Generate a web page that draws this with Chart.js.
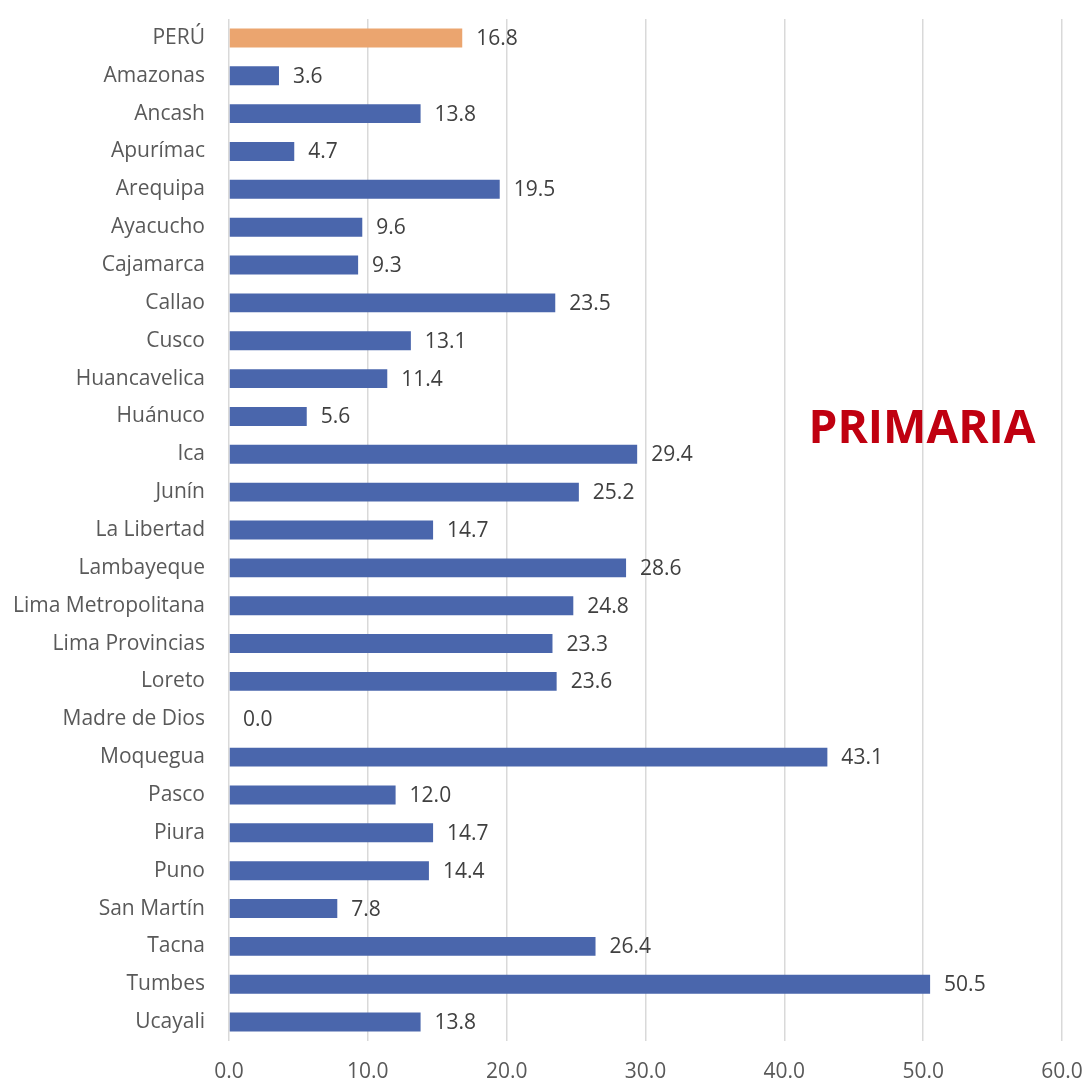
<!DOCTYPE html>
<html>
<head>
<meta charset="utf-8">
<script src="https://cdn.jsdelivr.net/npm/chart.js@4/dist/chart.umd.min.js"></script>
<style>
  html, body { margin: 0; padding: 0; background: #fff; }
  #wrap { width: 1086px; height: 1084px; }
</style>
</head>
<body>
<div id="wrap"><canvas id="grafico"></canvas></div>
<script>
const regiones = ['PERÚ', 'Amazonas', 'Ancash', 'Apurímac', 'Arequipa', 'Ayacucho', 'Cajamarca',
  'Callao', 'Cusco', 'Huancavelica', 'Huánuco', 'Ica', 'Junín', 'La Libertad', 'Lambayeque',
  'Lima Metropolitana', 'Lima Provincias', 'Loreto', 'Madre de Dios', 'Moquegua', 'Pasco',
  'Piura', 'Puno', 'San Martín', 'Tacna', 'Tumbes', 'Ucayali'];
const porcentajes = [16.8, 3.6, 13.8, 4.7, 19.5, 9.6, 9.3, 23.5, 13.1, 11.4, 5.6, 29.4, 25.2, 14.7,
  28.6, 24.8, 23.3, 23.6, 0.0, 43.1, 12.0, 14.7, 14.4, 7.8, 26.4, 50.5, 13.8];
const ejeX = [0, 10, 20, 30, 40, 50, 60];

const FUENTE = '"Open Sans", sans-serif';
const colores = regiones.map(r => r === 'PERÚ' ? '#EBA56F' : '#4A66AC');

// etiquetas con el valor al final de cada barra + titulo del nivel
const etiquetas = {
  id: 'etiquetas',
  afterDatasetsDraw(chart) {
    const ctx = chart.ctx;
    const meta = chart.getDatasetMeta(0);
    ctx.save();
    ctx.font = '21px ' + FUENTE;
    ctx.fillStyle = '#404040';
    ctx.textAlign = 'left';
    ctx.textBaseline = 'middle';
    meta.data.forEach((bar, i) => {
      ctx.fillText(porcentajes[i].toFixed(1), bar.x + 14, bar.y + 1);
    });
    ctx.font = 'bold 46px ' + FUENTE;
    ctx.fillStyle = '#C00010';
    ctx.textAlign = 'center';
    ctx.fillText('PRIMARIA', 922, 430);
    ctx.restore();
  }
};

new Chart(document.getElementById('grafico'), {
  type: 'bar',
  data: {
    labels: regiones,
    datasets: [{
      data: porcentajes,
      backgroundColor: colores,
      borderWidth: 0,
      barPercentage: 0.5,
      categoryPercentage: 1.0
    }]
  },
  options: {
    indexAxis: 'y',
    responsive: true,
    maintainAspectRatio: false,
    animation: false,
    layout: { padding: { top: 19, left: 0, right: 24, bottom: 0 } },
    plugins: {
      legend: { display: false },
      tooltip: { enabled: false }
    },
    scales: {
      x: {
        min: 0,
        max: 60,
        afterBuildTicks(scale) {
          scale.ticks = ejeX.map(v => ({ value: v }));
        },
        afterFit(scale) {
          scale.height = 43;
          scale.paddingLeft = 0;
          scale.paddingRight = 0;
        },
        ticks: {
          color: '#595959',
          font: { size: 21, family: FUENTE },
          padding: 18,
          maxRotation: 0,
          callback: v => v.toFixed(1)
        },
        grid: { color: '#D9D9D9', lineWidth: 1.5, drawTicks: false },
        border: { display: false }
      },
      y: {
        afterFit(scale) {
          scale.width = 229;
          scale.paddingTop = 0;
          scale.paddingBottom = 0;
        },
        ticks: {
          color: '#595959',
          font: { size: 21, family: FUENTE },
          padding: 24,
          autoSkip: false
        },
        grid: { display: false, drawTicks: false },
        border: { display: false }
      }
    }
  },
  plugins: [etiquetas]
});
</script>
</body>
</html>
